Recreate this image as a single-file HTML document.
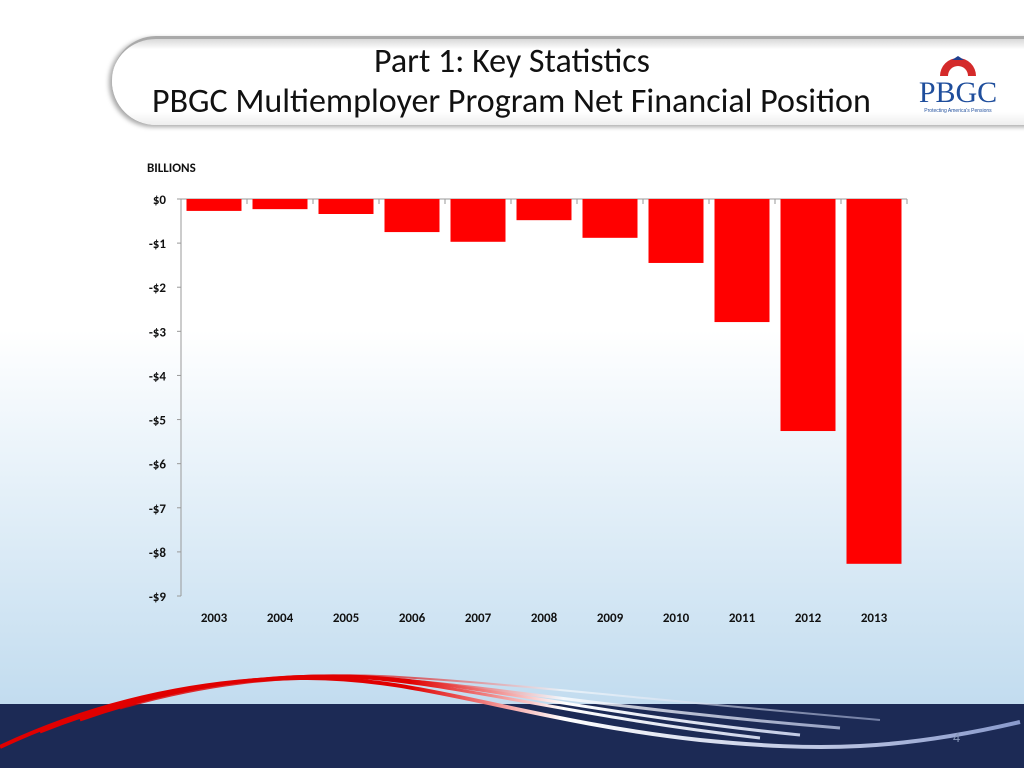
<!DOCTYPE html>
<html><head><meta charset="utf-8"><style>
html,body{margin:0;padding:0}
body{width:1024px;height:768px;position:relative;overflow:hidden;font-family:"Liberation Sans",sans-serif;background:linear-gradient(#ffffff 0px,#ffffff 330px,#e6f1f9 480px,#c2dcef 704px);}
.hdr{position:absolute;left:112px;top:36px;width:960px;height:86px;border-radius:44px 0 0 44px;background:linear-gradient(#d8d8d8,#ffffff 12%,#ffffff 85%,#eeeeee);box-shadow:-3px 2px 5px rgba(0,0,0,.35);border-top:3px solid #a9a9a9}
.t{position:absolute;font-family:"Carlito","Liberation Sans",sans-serif;color:#111;font-size:34px;line-height:40px;white-space:nowrap}
.band{position:absolute;left:0;top:704px;width:1024px;height:64px;background:#1c2a55}
</style></head><body>
<div class="hdr"></div>
<div class="t" style="left:374px;top:42px;">Part 1: Key Statistics</div>
<div class="t" style="left:152px;top:82px;">PBGC Multiemployer Program Net Financial Position</div>
<div style="position:absolute;left:912px;top:44px;width:92px;height:72px;">
<svg width="92" height="72"><path d="M28 32 A18 18 0 0 1 64 32 L56 32 A10 10 0 0 0 36 32Z" fill="#d42a2a"/><polygon points="46,12 52,16 40,16" fill="#1f3f8f"/>
<text x="46" y="58" text-anchor="middle" font-family="Liberation Serif,serif" font-size="30" fill="#1f4e9c">PBGC</text>
<text x="46" y="68" text-anchor="middle" font-size="5" fill="#1f4e9c">Protecting America's Pensions</text></svg></div>
<div class="band"></div>
<svg style="position:absolute;left:0;top:640px" width="1024" height="128">
<defs><linearGradient id="sg" x1="0" x2="1024" y1="0" y2="0" gradientUnits="userSpaceOnUse">
<stop offset="0" stop-color="#e00000"/><stop offset="0.4" stop-color="#e00000"/><stop offset="0.55" stop-color="#ffffff"/><stop offset="1" stop-color="#8899cc"/></linearGradient></defs>
<g fill="none" stroke="url(#sg)">
<path d="M0 107 C100 60 200 40 300 38 C420 36 520 80 700 100 C820 112 900 110 1020 82" stroke-width="4"/>
<path d="M40 92 C140 52 240 36 330 36 C440 38 560 75 760 98" stroke-width="3"/>
<path d="M80 80 C170 48 260 34 350 36 C460 40 600 75 800 95" stroke-width="3"/>
<path d="M120 68 C200 45 280 34 370 38 C480 44 620 70 840 88" stroke-width="3" opacity=".8"/>
<path d="M150 58 C220 42 300 33 380 36 C500 42 650 60 880 80" stroke-width="2" opacity=".6"/>
</g>
<text x="953" y="102" font-size="13" fill="#8899bb">4</text>
</svg>
<svg id="chart" style="position:absolute;left:0;top:0" width="1024" height="640"></svg>
<script>
const years=["2003","2004","2005","2006","2007","2008","2009","2010","2011","2012","2013"];
const values=[-0.27,-0.23,-0.34,-0.75,-0.97,-0.48,-0.88,-1.45,-2.79,-5.26,-8.27];
const yTicks=[0,-1,-2,-3,-4,-5,-6,-7,-8,-9];
const yLabels=["$0","-$1","-$2","-$3","-$4","-$5","-$6","-$7","-$8","-$9"];
const NS="http://www.w3.org/2000/svg";
const svg=document.getElementById('chart');
const x0=181,cw=66,y0=199,ppu=(596-199)/9;
const Y=v=>y0-v*ppu;
const X=i=>x0+i*cw;
function mk(t,a,txt){const e=document.createElementNS(NS,t);for(const k in a)e.setAttribute(k,a[k]);if(txt!=null)e.textContent=txt;svg.appendChild(e);return e;}
let ax=mk('line',{x1:x0,y1:y0,x2:x0,y2:Y(-9),stroke:'#999','stroke-width':1});


let xa=mk('line',{x1:x0-4,y1:y0,x2:X(years.length),y2:y0,stroke:'#999','stroke-width':1});


yTicks.forEach((v,i)=>{
 mk('line',{x1:x0-4,y1:Y(v),x2:x0,y2:Y(v),stroke:'#999'});
 const t=mk('text',{x:166,y:Y(v)+5,'text-anchor':'end','font-size':13,'font-weight':'bold',fill:'#111','font-family':'Carlito,Liberation Sans,sans-serif'},yLabels[i]);
 
 
});
for(let i=0;i<=years.length;i++)mk('line',{x1:X(i),y1:y0,x2:X(i),y2:y0+5,stroke:'#999'});
years.forEach((yr,i)=>{
 const v=values[i];
 const r=mk('rect',{x:X(i)+5.5,y:y0,width:55,height:Y(v)-y0,fill:'#ff0000'});
 
 
 const t=mk('text',{x:X(i)+cw/2,y:622,'text-anchor':'middle','font-size':13,'font-weight':'bold',fill:'#111','font-family':'Carlito,Liberation Sans,sans-serif'},yr);
 
 
});
const u=mk('text',{x:147,y:172,'font-size':13,'font-weight':'bold',fill:'#111','font-family':'Carlito,Liberation Sans,sans-serif'},'BILLIONS');


</script>
</body></html>
